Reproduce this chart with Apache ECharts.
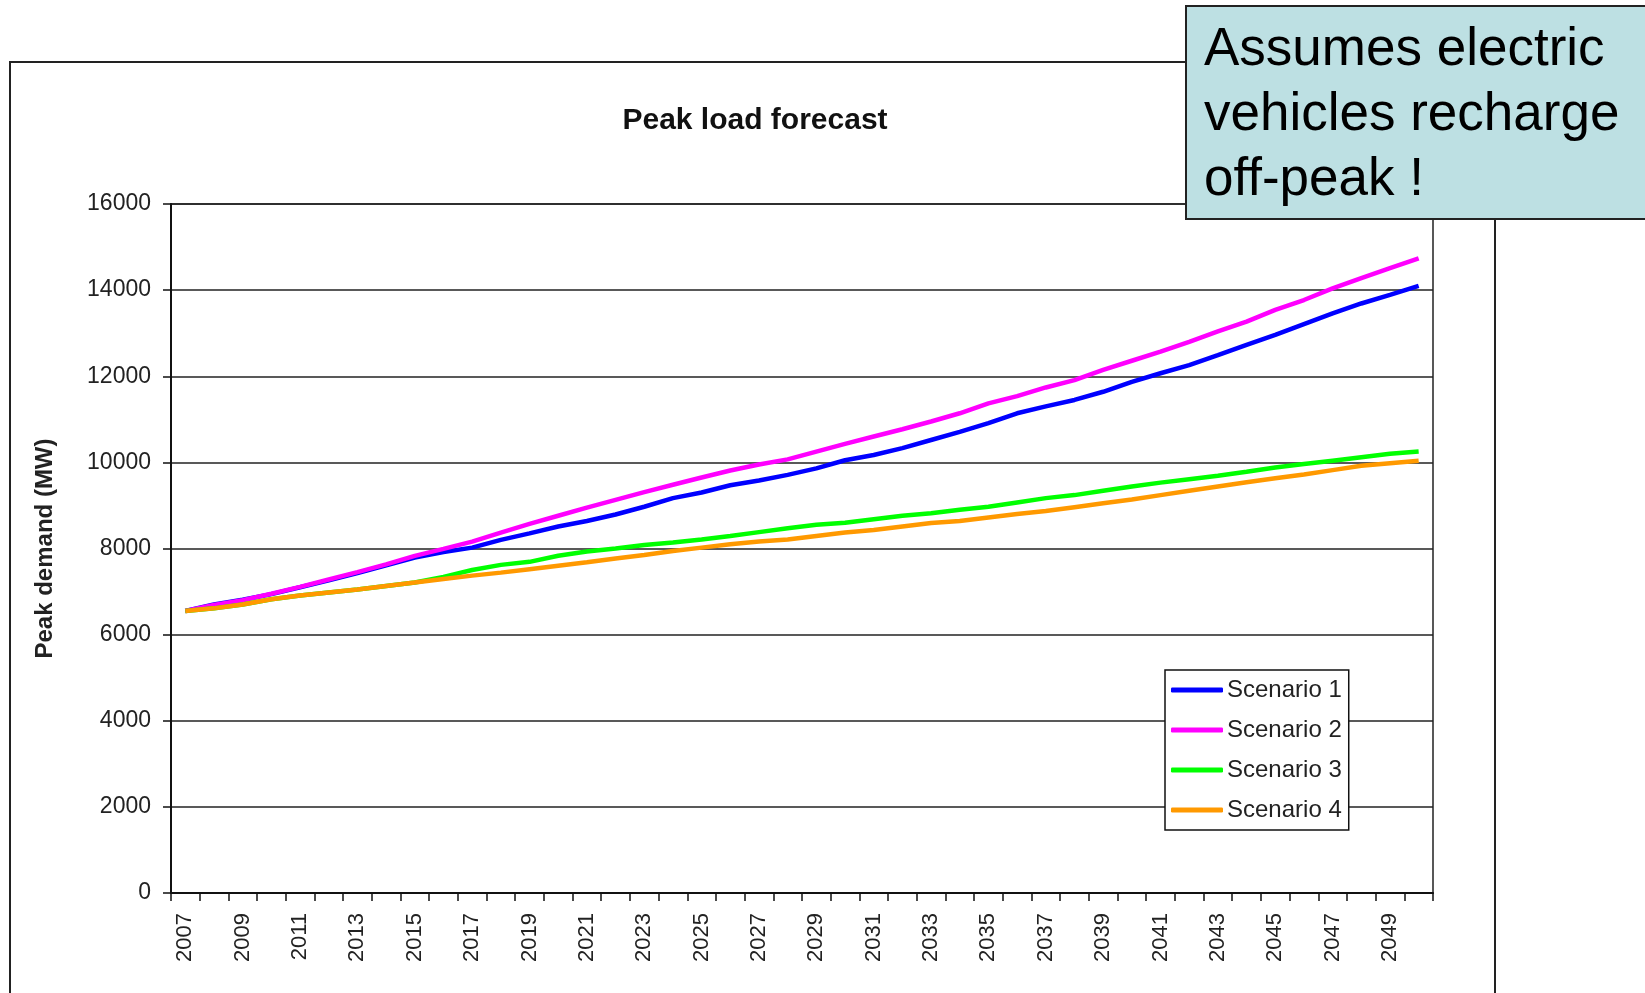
<!DOCTYPE html>
<html>
<head>
<meta charset="utf-8">
<title>Peak load forecast</title>
<script src="https://cdn.jsdelivr.net/npm/echarts@6/dist/echarts.min.js"></script>
<style>
  html, body { margin: 0; padding: 0; background: #ffffff; }
  #chart { width: 1645px; height: 993px; }
</style>
</head>
<body>
<div id="chart"></div>
<script>
// Forecast years
const years = [];
for (let y = 2007; y <= 2050; y++) years.push(String(y));

// Peak demand (MW) per scenario, one value per year 2007..2050
const scenario1 = [
  6550, 6700, 6810, 6940, 7100, 7260, 7430, 7610, 7790, 7920,
  8020, 8200, 8350, 8510, 8640, 8790, 8970, 9170, 9300, 9470,
  9580, 9710, 9860, 10050, 10170, 10330, 10520, 10710, 10910, 11140,
  11300, 11450, 11640, 11870, 12070, 12260, 12490, 12730, 12960, 13210,
  13460, 13690, 13890, 14100
];
const scenario2 = [
  6550, 6690, 6800, 6950, 7110, 7280, 7450, 7630, 7830, 7990,
  8160, 8370, 8570, 8760, 8950, 9130, 9310, 9480, 9650, 9810,
  9950, 10070, 10250, 10430, 10600, 10770, 10950, 11140, 11370, 11540,
  11740, 11910, 12150, 12360, 12570, 12800, 13040, 13270, 13540, 13770,
  14040, 14280, 14510, 14740
];
const scenario3 = [
  6550, 6610, 6700, 6820, 6910, 6980, 7050, 7130, 7210, 7340,
  7500, 7620, 7690, 7830, 7930, 8000, 8080, 8140, 8210, 8290,
  8380, 8470, 8550, 8600, 8680, 8760, 8820, 8900, 8970, 9070,
  9170, 9240, 9340, 9440, 9530, 9610, 9690, 9780, 9880, 9960,
  10040, 10120, 10200, 10250
];
const scenario4 = [
  6550, 6610, 6700, 6820, 6910, 6980, 7050, 7130, 7210, 7290,
  7370, 7440, 7520, 7600, 7680, 7770, 7850, 7940, 8020, 8100,
  8160, 8210, 8290, 8370, 8430, 8510, 8590, 8640, 8720, 8800,
  8870, 8960, 9050, 9140, 9240, 9340, 9440, 9540, 9630, 9720,
  9820, 9920, 9980, 10040
];

const seriesNames = ['Scenario 1', 'Scenario 2', 'Scenario 3', 'Scenario 4'];
const seriesColors = ['#0000ff', '#ff00ff', '#00ff00', '#ff9900'];
const seriesData = [scenario1, scenario2, scenario3, scenario4];

const FONT = "'Liberation Sans', Arial, Helvetica, sans-serif";

const chart = echarts.init(document.getElementById('chart'), null, { renderer: 'canvas' });

chart.setOption({
  animation: false,
  backgroundColor: '#ffffff',
  textStyle: { fontFamily: FONT },
  grid: {
    left: 171, right: 212, top: 204, bottom: 100,
    show: true, borderColor: '#222', borderWidth: 1.5, backgroundColor: 'transparent',
    containLabel: false
  },
  legend: {
    orient: 'vertical',
    left: 1165, top: 670,
    data: seriesNames,
    icon: 'roundRect',
    itemWidth: 52, itemHeight: 5, itemGap: 12,
    padding: [6, 7, 6, 6],
    backgroundColor: '#ffffff',
    borderColor: '#111', borderWidth: 1.5,
    textStyle: { fontFamily: FONT, fontSize: 24, color: '#222', lineHeight: 28, padding: [0, 0, 0, -1] }
  },
  xAxis: {
    type: 'category',
    data: years,
    boundaryGap: true,
    axisLine: { show: true, lineStyle: { color: '#111', width: 2 } },
    axisTick: { show: true, interval: 0, length: 8, inside: false, lineStyle: { color: '#111', width: 1.5 } },
    axisLabel: { interval: 1, rotate: 90, margin: 20, fontSize: 22, color: '#222', fontFamily: FONT },
    splitLine: { show: false }
  },
  yAxis: {
    type: 'value',
    min: 0, max: 16000, interval: 2000,
    name: 'Peak demand (MW)',
    nameLocation: 'middle',
    nameRotate: 90,
    nameGap: 114,
    nameTextStyle: { fontFamily: FONT, fontSize: 24, fontWeight: 'bold', color: '#222' },
    axisLine: { show: true, lineStyle: { color: '#111', width: 2 } },
    axisTick: { show: true, length: 8, inside: false, lineStyle: { color: '#111', width: 1.5 } },
    axisLabel: {
      margin: 20, fontSize: 23, color: '#222', fontFamily: FONT,
      formatter: (v) => String(v)
    },
    splitLine: { show: true, lineStyle: { color: '#222', width: 1.5 } }
  },
  series: seriesNames.map((name, i) => ({
    name: name,
    type: 'line',
    data: seriesData[i],
    showSymbol: false,
    symbol: 'none',
    smooth: false,
    lineStyle: { color: seriesColors[i], width: 4.5 },
    itemStyle: { color: seriesColors[i] },
    z: 3 + i
  })),
  graphic: [
    // outer chart frame
    {
      type: 'rect', z: -10, silent: true,
      shape: { x: 10, y: 62, width: 1485, height: 980 },
      style: { fill: 'transparent', stroke: '#222', lineWidth: 2 }
    },
    // chart title
    {
      type: 'text', z: 10, silent: true,
      x: 755, y: 121,
      style: {
        text: 'Peak load forecast',
        fontFamily: FONT, fontSize: 30, fontWeight: 'bold', fill: '#111',
        align: 'center', verticalAlign: 'middle'
      }
    },
    // callout box
    {
      type: 'rect', z: 100, silent: true,
      shape: { x: 1186, y: 6, width: 480, height: 213 },
      style: { fill: '#bde0e3', stroke: '#222', lineWidth: 2 }
    },
    {
      type: 'text', z: 101, silent: true,
      x: 1204, y: 18,
      style: {
        text: 'Assumes electric\nvehicles recharge\noff-peak !',
        fontFamily: FONT, fontSize: 53, lineHeight: 65, fill: '#000',
        align: 'left', verticalAlign: 'top'
      }
    }
  ]
});
</script>
</body>
</html>
